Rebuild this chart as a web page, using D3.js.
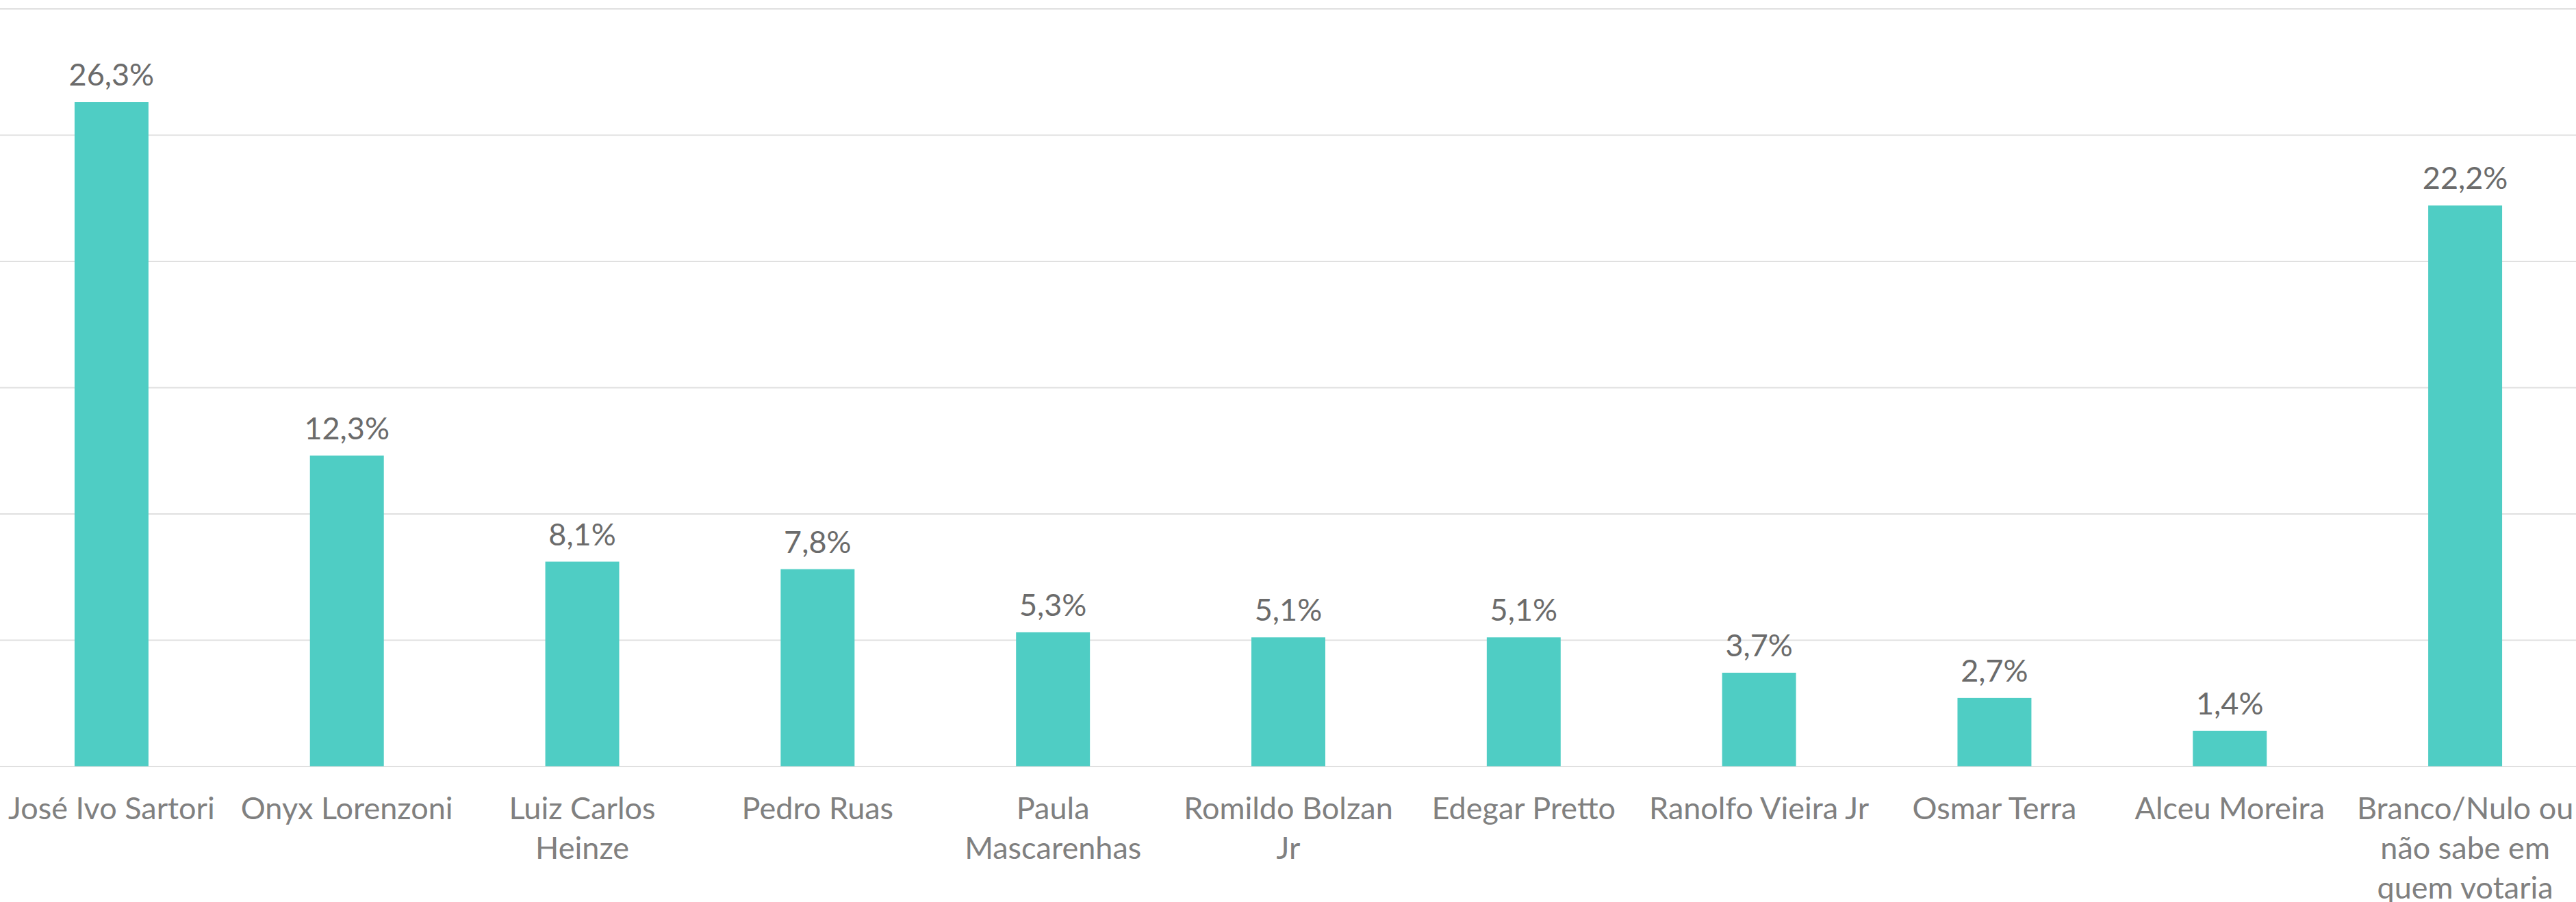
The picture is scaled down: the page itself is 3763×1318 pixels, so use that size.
<!DOCTYPE html>
<html>
<head>
<meta charset="utf-8">
<script src="https://cdn.jsdelivr.net/npm/d3@7"></script>
<style>
    body { margin: 0; background: #ffffff; }
    svg { display: block; }
    .axis--x text { font-family: Lato, "Open Sans", sans-serif; font-size: 45px; fill: #808080; }
    .value { font-family: Lato, "Open Sans", sans-serif; font-size: 45px; fill: #6b6b6b; }
</style>
</head>
<body>
<svg id="chart"></svg>
<script>
// candidatos e percentuais
const candidates = ["José Ivo Sartori", "Onyx Lorenzoni", "Luiz Carlos Heinze", "Pedro Ruas",
    "Paula Mascarenhas", "Romildo Bolzan Jr", "Edegar Pretto", "Ranolfo Vieira Jr",
    "Osmar Terra", "Alceu Moreira", "Branco/Nulo ou não sabe em quem votaria"];
const percent = [26.3, 12.3, 8.1, 7.8, 5.3, 5.1, 5.1, 3.7, 2.7, 1.4, 22.2];
// rótulos do eixo, já quebrados em linhas
const tickLines = [
    ["José Ivo Sartori"], ["Onyx Lorenzoni"], ["Luiz Carlos", "Heinze"], ["Pedro Ruas"],
    ["Paula", "Mascarenhas"], ["Romildo Bolzan", "Jr"], ["Edegar Pretto"], ["Ranolfo Vieira Jr"],
    ["Osmar Terra"], ["Alceu Moreira"], ["Branco/Nulo ou", "não sabe em", "quem votaria"]
];
const yTicks = [0, 5, 10, 15, 20, 25, 30];

const width = 3763, height = 1318;
const svg = d3.select("#chart").attr("width", width).attr("height", height);

const data = candidates.map(function(c, i) {
    return { name: c, value: percent[i], lines: tickLines[i] };
});

let x = d3.scaleBand()
    .domain(candidates)
    .range([-9, 3773])
    .paddingInner(0.686)
    .paddingOuter(0.343);

let y = d3.scaleLinear()
    .domain([0, 30])
    .range([1119.5, 12.5]);

// linhas de grade
let gY = svg.append("g")
    .attr("class", "axis axis--y")
    .call(d3.axisLeft(y).tickValues(yTicks).tickSize(-width).tickFormat(""));
gY.select(".domain").remove();
gY.selectAll(".tick line").attr("stroke", "#e0e0e0").attr("stroke-width", 2);

// barras
svg.selectAll("rect.bar")
    .data(data)
    .enter()
    .append("rect")
    .attr("class", "bar")
    .attr("x", function(d) { return x(d.name); })
    .attr("y", function(d) { return y(d.value); })
    .attr("width", x.bandwidth())
    .attr("height", function(d) { return y(0) - y(d.value); })
    .style("fill", "#4fcdc4");

// valores
svg.selectAll("text.value")
    .data(data)
    .enter()
    .append("text")
    .attr("class", "value")
    .attr("text-anchor", "middle")
    .attr("x", function(d) { return x(d.name) + x.bandwidth() / 2; })
    .attr("y", function(d) { return y(d.value) - 24; })
    .text(function(d) { return d.value.toFixed(1).replace(".", ",") + "%"; });

// eixo x com rótulos em várias linhas
let gX = svg.append("g")
    .attr("class", "axis axis--x")
    .attr("transform", "translate(0," + y(0) + ")")
    .call(d3.axisBottom(x).tickSize(0).tickFormat(""));
gX.select(".domain").remove();

gX.selectAll(".tick").each(function(name, i) {
    let t = d3.select(this).select("text")
        .attr("y", 0)
        .attr("dy", null)
        .attr("text-anchor", "middle");
    tickLines[i].forEach(function(line, k) {
        t.append("tspan")
            .attr("x", 0)
            .attr("y", 77 + k * 58)
            .text(line);
    });
});
</script>
</body>
</html>
